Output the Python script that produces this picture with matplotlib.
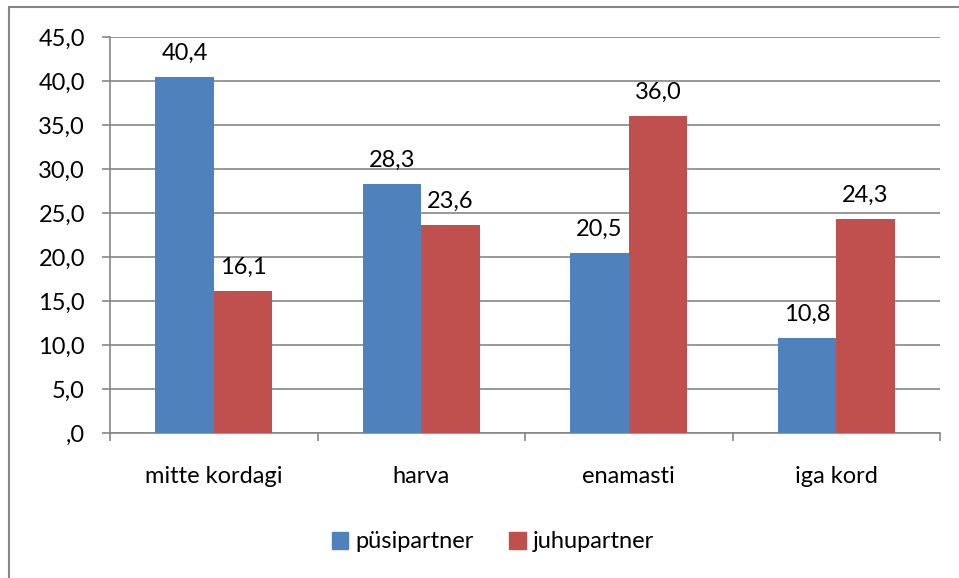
import matplotlib
matplotlib.use("Agg")
import matplotlib.pyplot as plt
from matplotlib.patches import Rectangle, Patch
import numpy as np

categories = ["mitte kordagi", "harva", "enamasti", "iga kord"]
pusipartner = [40.4, 28.3, 20.5, 10.8]
juhupartner = [16.1, 23.6, 36.0, 24.3]
series_names = ["püsipartner", "juhupartner"]
yticks = [0, 5, 10, 15, 20, 25, 30, 35, 40, 45]

def fmt(v):
    s = f"{v:.1f}".replace(".", ",")
    if s.startswith("0,"):
        s = s[1:]
    return s

plt.rcParams['font.family'] = ['Lato', 'DejaVu Sans']
FS = 17
W, H = 959, 578
fig = plt.figure(figsize=(W/100, H/100), dpi=100)
fig.patches.append(Rectangle((9/W, -0.05), 1.1, (H-7)/H + 0.05, transform=fig.transFigure,
                             fill=False, edgecolor='#868686', linewidth=1.5, clip_on=False))
ax = fig.add_axes([110/W, 1-433/H, 830/W, 396/H])

x = np.arange(len(categories))
bw = 0.282
blue, red = '#4F81BD', '#C0504D'
b1 = ax.bar(x - bw/2, pusipartner, bw, color=blue, zorder=3)
b2 = ax.bar(x + bw/2, juhupartner, bw, color=red, zorder=3)
for bars, vals in ((b1, pusipartner), (b2, juhupartner)):
    for r, v in zip(bars, vals):
        ax.text(r.get_x() + r.get_width()/2, v + 1.5, fmt(v), ha='center', va='bottom',
                fontsize=FS, color='black')

ax.set_xlim(-0.5, len(categories) - 0.5)
ax.set_ylim(0, 45)
ax.set_yticks(yticks)
ax.set_yticklabels([fmt(t) for t in yticks], fontsize=FS)
ax.yaxis.grid(True, color='#868686', linewidth=1.2, zorder=0)
ax.set_xticks(x)
ax.set_xticklabels(categories, fontsize=FS)
ax.tick_params(axis='x', length=0, pad=24)
ax.set_xticks(np.arange(-0.5, len(categories)), minor=True)
ax.tick_params(axis='x', which='minor', length=6, color='#868686', width=1.2)
ax.tick_params(axis='y', length=6, color='#868686', width=1.2, pad=12)
for s in ('top', 'right'):
    ax.spines[s].set_visible(False)
for s in ('left', 'bottom'):
    ax.spines[s].set_color('#868686')
    ax.spines[s].set_linewidth(1.2)

handles = [Patch(color=blue), Patch(color=red)]
fig.legend(handles, series_names, loc='center', bbox_to_anchor=(493/W, 1-542/H), ncol=2,
           frameon=False, fontsize=FS, handlelength=0.7, handleheight=0.7,
           handletextpad=0.3, columnspacing=1.5)

fig.savefig("out.png", dpi=100)
